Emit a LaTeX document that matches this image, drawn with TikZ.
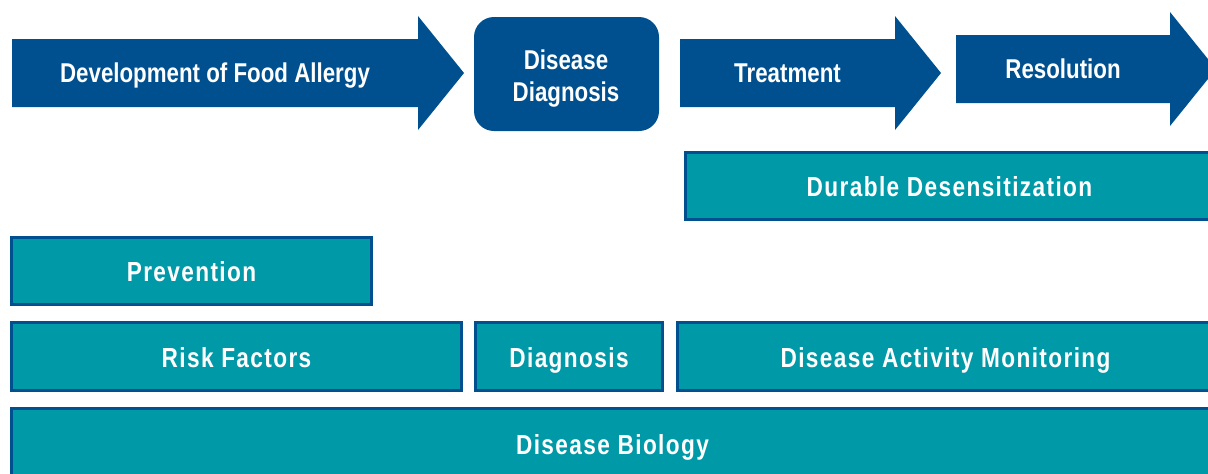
\documentclass[tikz,border=0pt]{standalone}
\usepackage{fontspec}
\setmainfont{Liberation Sans}[FakeStretch=0.82]
\newfontfamily\barfont{Liberation Sans}[FakeStretch=0.82,LetterSpace=5]
\definecolor{phaseblue}{HTML}{00508F}
\definecolor{barteal}{HTML}{0099A8}
\tikzset{
	phase/.style={fill=phaseblue},
	phaselabel/.style={text=white,font=\bfseries\fontsize{13.6}{16}\selectfont,align=center},
	bar/.style={fill=barteal,draw=phaseblue,line width=1.5pt},
	barlabel/.style={text=white,font=\barfont\bfseries\fontsize{13.8}{16}\selectfont,
		text height=0.7em,text depth=0pt}
}
% name, shaft start, head start, tip, middle y, text
\newcommand{\phasearrow}[6]{%
	\fill[phase] (#2,#5-34) -- (#3,#5-34) -- (#3,#5-57) -- (#4,#5) -- (#3,#5+57) -- (#3,#5+34) -- (#2,#5+34) -- cycle;
	\node[phaselabel,text height=0.7em,text depth=0pt] (#1) at ({(#2+#3)/2},#5+2) {#6};}
% name, x0, y0, x1, y1, text
\newcommand{\phasebar}[6]{%
	\draw[bar] (#2+1.5,#3+1.5) rectangle (#4-1.5,#5-1.5);
	\node[barlabel] (#1) at ({(#2+#4)/2},{(#3+#5)/2+3.5}) {#6};}
\begin{document}
\begin{tikzpicture}[x=0.5pt,y=-0.5pt]
	\useasboundingbox (0,0) rectangle (1208,473);
	\clip (0,0) rectangle (1208,473);
	% phases
	\phasearrow{develop}{12}{418}{464}{73}{Development of Food Allergy}
	\fill[phase,rounded corners=10pt] (474,17) rectangle (659,131);
	\node[phaselabel] (diagphase) at (566,79) {Disease\\Diagnosis};
	\phasearrow{treat}{680}{895}{941}{73}{Treatment}
	\phasearrow{resolve}{956}{1170}{1216}{69}{Resolution}
	% research areas
	\phasebar{durable}{684}{151}{1215}{221}{Durable Desensitization}
	\phasebar{prevent}{10}{236}{373}{306}{Prevention}
	\phasebar{risk}{10}{321}{463}{392}{Risk Factors}
	\phasebar{diagbar}{474}{321}{664}{392}{Diagnosis}
	\phasebar{monitor}{676}{321}{1215}{392}{Disease Activity Monitoring}
	\phasebar{biology}{10}{407}{1215}{480}{Disease Biology}
\end{tikzpicture}
\end{document}
